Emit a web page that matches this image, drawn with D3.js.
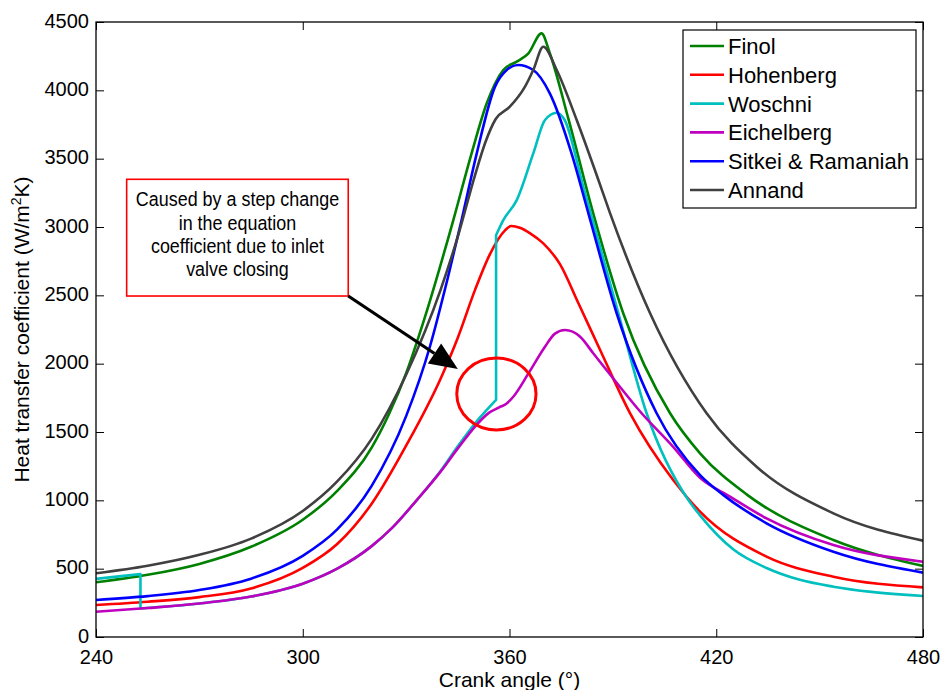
<!DOCTYPE html>
<html>
<head>
<meta charset="utf-8">
<script src="https://cdn.jsdelivr.net/npm/d3@7"></script>
<style>
  html, body { margin: 0; padding: 0; background: #ffffff; }
  svg { display: block; }
  text { font-family: "Liberation Sans", Arial, sans-serif; fill: #000; }
</style>
</head>
<body>
<svg id="chart" width="943" height="690"></svg>
<script>
// ---------- data (crank angle [deg], heat transfer coefficient [W/m2K]) ----------
const xTicks = [240, 300, 360, 420, 480];
const yTicks = [0, 500, 1000, 1500, 2000, 2500, 3000, 3500, 4000, 4500];
const seriesNames = ["Finol", "Hohenberg", "Woschni", "Eichelberg", "Sitkei & Ramaniah", "Annand"];
const seriesColors = ["#008000", "#ff0000", "#00bfbf", "#bf00bf", "#0000ff", "#404040"];

const finol = [[240,400],[255,455],[270,535],[285,660],[300,858],[310,1069],[320,1386],[325,1630],[330,1930],
  [335.5,2344],[343.7,3051],[349,3539],[353.4,3905],[358.2,4149],[362.1,4210],[365.5,4271],[369.3,4417],
  [371.7,4271],[377,3800],[384.3,3100],[393,2369],[406.6,1637],[415.3,1344],[429,1040],[454,710],[480,520]];

const hohenberg = [[240,234],[255,258],[270,292],[285,355],[300,505],[310,680],[320,975],[330,1400],[340,1890],
  [345,2190],[350,2540],[354.3,2800],[358.7,2975],[360.5,3007],[363,2995],[366,2954],[369.8,2880],
  [374.6,2730],[380,2442],[386.3,2100],[395,1637],[407.5,1149],[415.3,917],[434.6,588],[454,441],[480,363]];

const woschniSeg1 = [[240,425],[246,442],[252.9,460]];
const woschniSeg2 = [[252.9,209],[270,245],[285,296],[300,390],[310,500],[320,665],[326,800],[333.1,1002],
  [340,1215],[345,1395],[350.9,1590],[356.1,1735]];
const woschniSeg3 = [[356.1,2940],[358.2,3051],[362.1,3197],[366.9,3539],[370.3,3783],[373.7,3836],
  [376,3783],[381.4,3295],[383.8,3080],[391.6,2369],[399.8,1637],[411.9,1002],[415.3,890],[425,640],
  [434.6,505],[444,420],[454,368],[465,330],[480,300]];

const eichelberg = [[240,185],[255,212],[270,245],[285,296],[300,390],[310,500],[320,665],[326,800],[333.1,1002],
  [340,1210],[345,1380],[350,1540],[354,1640],[357,1680],[359,1705],[361.1,1758],[365.5,1929],[370.3,2124],
  [373.2,2220],[376.1,2246],[380.5,2197],[384.3,2076],[391.1,1860],[397.9,1650],[407.5,1392],[415.3,1165],
  [424,1027],[434.6,868],[454,673],[480,551]];

const sitkei = [[240,271],[255,299],[270,344],[285,427],[300,594],[310,787],[320,1106],[330,1616],[337,2133],
  [342,2618],[346.1,3051],[350.5,3539],[355.8,4027],[359.2,4149],[362.5,4185],[366.9,4149],[371.7,3978],
  [378,3539],[382.9,3100],[391.1,2369],[402.7,1637],[415.3,1185],[422,1040],[434.6,832],[454,624],[480,471]];

const annand = [[240,466],[255,521],[270,601],[285,720],[300,922],[310,1138],[320,1450],[330,1919],[340,2540],
  [345,2930],[350,3380],[353,3620],[356,3790],[360.1,3880],[364.5,4027],[366.9,4149],[369.8,4319],
  [373.7,4149],[379.5,3783],[385.8,3344],[389.2,3100],[400.8,2369],[417.2,1637],[431.7,1246],[454,905],[480,705]];

const noteLines = ["Caused by a step change", "in the equation", "coefficient due to inlet", "valve closing"];
// annotation anchors in data units
const noteBox = {x0: 248.9, x1: 313.2, y0: 2495, y1: 3349};
const noteCircle = {cx: 356.2, cy: 1778, rx: 11.5, ry: 263};
const noteArrowTip = [345, 1961];

// ---------- layout ----------
const svg = d3.select("#chart");
const M = {left: 96, right: 923, top: 22, bottom: 637};
const x = d3.scaleLinear().domain([240, 480]).range([M.left, M.right]);
const y = d3.scaleLinear().domain([0, 4500]).range([M.bottom, M.top]);

svg.append("rect").attr("width", 943).attr("height", 690).attr("fill", "#fff");

svg.append("defs").append("clipPath").attr("id", "clip")
  .append("rect").attr("x", M.left).attr("y", M.top)
  .attr("width", M.right - M.left).attr("height", M.bottom - M.top);

// axes (ticks inward on all four sides)
const tickLen = 8;
const axB = svg.append("g").attr("transform", `translate(0,${M.bottom})`)
  .call(d3.axisBottom(x).tickValues(xTicks).tickSize(-tickLen).tickPadding(13).tickFormat(d3.format("d")));
const axT = svg.append("g").attr("transform", `translate(0,${M.top})`)
  .call(d3.axisTop(x).tickValues(xTicks).tickSize(-tickLen).tickFormat(""));
const axL = svg.append("g").attr("transform", `translate(${M.left},0)`)
  .call(d3.axisLeft(y).tickValues(yTicks).tickSize(-tickLen).tickPadding(7).tickFormat(d3.format("d")));
const axR = svg.append("g").attr("transform", `translate(${M.right},0)`)
  .call(d3.axisRight(y).tickValues(yTicks).tickSize(-tickLen).tickFormat(""));
[axB, axT, axL, axR].forEach(a => {
  a.select(".domain").remove();
  a.selectAll(".tick line").attr("stroke", "#000").attr("stroke-width", 1);
  a.selectAll(".tick text").style("font-size", "20px").attr("fill", "#000")
   .style("font-family", '"Liberation Sans", Arial, sans-serif');
});
axB.selectAll(".tick text").attr("dy", "0.71em");
axL.selectAll(".tick text").attr("dy", "0.25em");

// series
const line = d3.line().x(d => x(d[0])).y(d => y(d[1])).curve(d3.curveMonotoneX);
const plot = svg.append("g").attr("clip-path", "url(#clip)");
const paths = [
  [finol],
  [hohenberg],
  [woschniSeg1, woschniSeg2, woschniSeg3],
  [eichelberg],
  [sitkei],
  [annand]
];
paths.forEach((segs, i) => {
  const d = segs.map((seg, k) => k ? line(seg).replace(/^M/, "L") : line(seg)).join("");
  plot.append("path").attr("d", d).attr("fill", "none")
    .attr("stroke", seriesColors[i]).attr("stroke-width", 2.6)
    .attr("stroke-linejoin", "round");
});

// frame
svg.append("rect").attr("x", M.left).attr("y", M.top)
  .attr("width", M.right - M.left).attr("height", M.bottom - M.top)
  .attr("fill", "none").attr("stroke", "#000").attr("stroke-width", 1.3);

// annotation: box
const bx0 = x(noteBox.x0), bx1 = x(noteBox.x1), by0 = y(noteBox.y1), by1 = y(noteBox.y0);
svg.append("rect").attr("x", bx0).attr("y", by0).attr("width", bx1 - bx0).attr("height", by1 - by0)
  .attr("fill", "#fff").attr("stroke", "#ff0000").attr("stroke-width", 1.6);
const bcx = (bx0 + bx1) / 2;
const noteG = svg.append("g").attr("transform", `translate(${bcx},0) scale(0.92,1)`);
noteLines.forEach((t, i) => {
  noteG.append("text").attr("x", 0).attr("y", by0 + 27 + i * 23.3)
    .attr("text-anchor", "middle")
    .style("font-family", '"Liberation Sans Narrow", "Arial Narrow", "Liberation Sans", sans-serif')
    .style("font-size", "19.5px").text(t);
});

// arrow
const ax0 = bx1, ay0 = by1;
const tx = x(noteArrowTip[0]), ty = y(noteArrowTip[1]);
const ang = Math.atan2(ty - ay0, tx - ax0);
const headL = 28, headW = 12;
const hbX = tx - headL * Math.cos(ang), hbY = ty - headL * Math.sin(ang);
svg.append("line").attr("x1", ax0).attr("y1", ay0).attr("x2", hbX).attr("y2", hbY)
  .attr("stroke", "#000").attr("stroke-width", 3.2);
svg.append("path").attr("fill", "#000").attr("d",
  `M${tx},${ty}L${hbX + headW * Math.sin(ang)},${hbY - headW * Math.cos(ang)}L${hbX - headW * Math.sin(ang)},${hbY + headW * Math.cos(ang)}Z`);

// ellipse
svg.append("ellipse").attr("cx", x(noteCircle.cx)).attr("cy", y(noteCircle.cy))
  .attr("rx", x(240 + noteCircle.rx) - x(240)).attr("ry", y(0) - y(noteCircle.ry))
  .attr("fill", "none").attr("stroke", "#ff0000").attr("stroke-width", 3);

// legend
const lg = svg.append("g");
const lgX0 = 683, lgY0 = 30, lgW = 233, lgH = 178, rowH = 28.8;
lg.append("rect").attr("x", lgX0).attr("y", lgY0).attr("width", lgW).attr("height", lgH)
  .attr("fill", "#fff").attr("stroke", "#000").attr("stroke-width", 1.2);
seriesNames.forEach((n, i) => {
  const cy = lgY0 + 16 + i * rowH;
  lg.append("line").attr("x1", lgX0 + 7).attr("x2", lgX0 + 41).attr("y1", cy).attr("y2", cy)
    .attr("stroke", seriesColors[i]).attr("stroke-width", 2.6);
  lg.append("text").attr("x", lgX0 + 45).attr("y", cy + 8).style("font-size", "22px").text(n);
});

// axis titles
svg.append("text").attr("x", (M.left + M.right) / 2).attr("y", 687).attr("text-anchor", "middle")
  .style("font-size", "21px").text("Crank angle (°)");
const yl = svg.append("text").attr("transform", `translate(29,${(M.top + M.bottom) / 2}) rotate(-90)`)
  .attr("text-anchor", "middle").style("font-size", "21px");
yl.append("tspan").text("Heat transfer coefficient (W/m");
yl.append("tspan").attr("dy", -8).style("font-size", "14px").text("2");
yl.append("tspan").attr("dy", 8).text("K)");
</script>
</body>
</html>
